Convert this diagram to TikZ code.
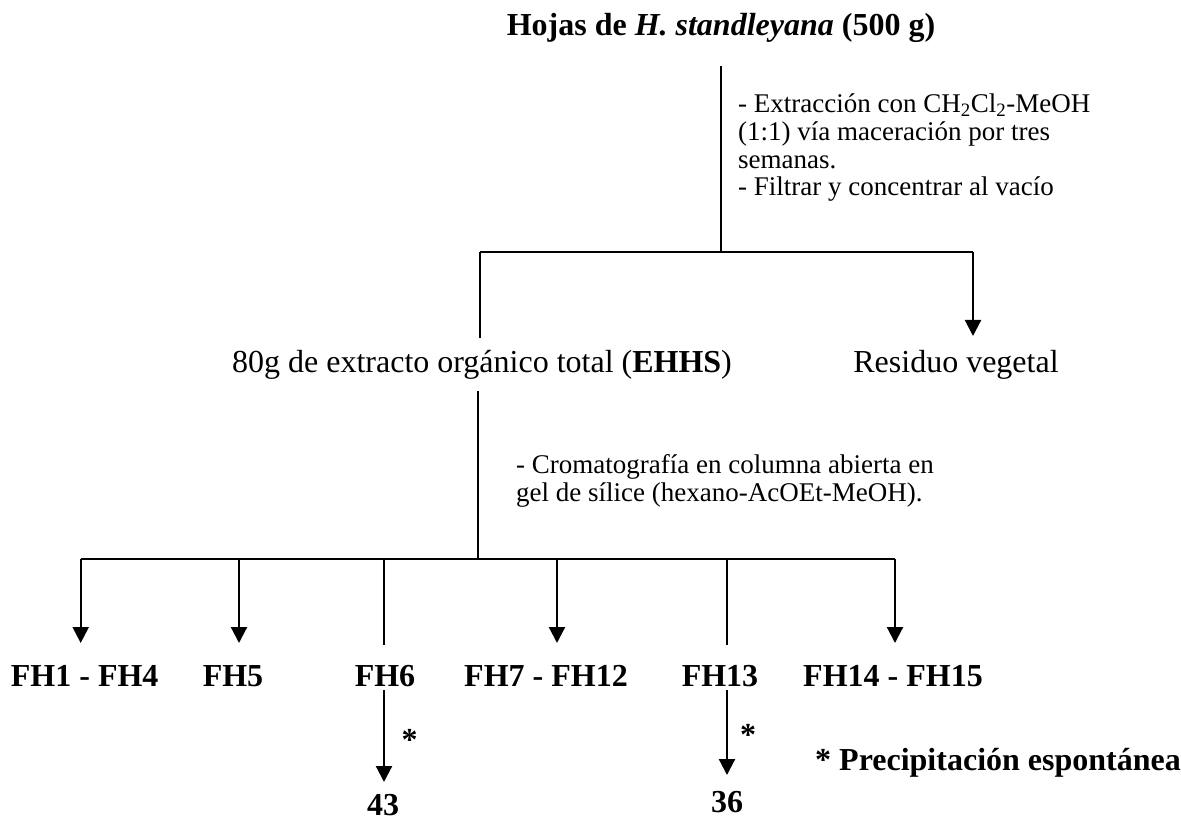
\documentclass[tikz,border=0pt]{standalone}
\usepackage{fontspec}
\setmainfont{Liberation Serif}
\usetikzlibrary{arrows.meta}
\begin{document}
\begin{tikzpicture}[x=1pt,y=-1pt,
  big/.style={font=\fontsize{32}{36}\selectfont, inner sep=0pt, anchor=base},
  bigb/.style={font=\fontsize{32}{36}\selectfont\bfseries, inner sep=0pt, anchor=base},
  note/.style={font=\fontsize{27}{27.7}\selectfont, inner sep=0pt, anchor=base west, align=left},
  thinline/.style={line width=1.4pt},
  arrowline/.style={line width=2.2pt, -{Triangle[length=16pt,width=16pt]}},
]
\useasboundingbox (0,0) rectangle (1181,818);

% starting material and extraction step
% (a multi-line node's base anchor sits on its last line)
\node[bigb] (src) at (721,36) {Hojas de \textit{H. standleyana} (500 g)};
\node[note] (n1) at (738,196) {- Extracción con CH\textsubscript{2}Cl\textsubscript{2}-MeOH\\(1:1) vía maceración por tres\\semanas.\\- Filtrar y concentrar al vacío};

\coordinate (t0) at (721,66);
\coordinate (j1) at (721,252);
\coordinate (jl) at (480,252);
\coordinate (jr) at (973,252);
\coordinate (el) at (480,338);
\coordinate (er) at (973,336);

\node[big] (ext) at (482,373) {80g de extracto orgánico total (\textbf{EHHS})};
\node[big] (res) at (956,373) {Residuo vegetal};

\draw[thinline] (t0) -- (j1);
\draw[thinline] (jl) -- (jr);
\draw[thinline] (jl) -- (el);
\draw[arrowline] (jr) -- (er);

% column chromatography
\coordinate (m0) at (478,391);
\coordinate (j2) at (478,559);
\node[note] (n2) at (516,501) {- Cromatografía en columna abierta en\\gel de sílice (hexano-AcOEt-MeOH).};

\draw[thinline] (m0) -- (j2);

\coordinate (b1) at (80.7,559);
\coordinate (b2) at (239,559);
\coordinate (b3) at (384,559);
\coordinate (b4) at (557,559);
\coordinate (b5) at (727,559);
\coordinate (b6) at (895,559);
\draw[line width=2pt] (b1) -- (b6);

\coordinate (e1) at (80.7,643);
\coordinate (e2) at (239,643);
\coordinate (e3) at (384,645);
\coordinate (e4) at (557,643);
\coordinate (e5) at (727,645);
\coordinate (e6) at (895,643);
\draw[arrowline] (b1) -- (e1);
\draw[arrowline] (b2) -- (e2);
\draw[thinline] (b3) -- (e3);
\draw[arrowline] (b4) -- (e4);
\draw[thinline] (b5) -- (e5);
\draw[arrowline] (b6) -- (e6);

% fractions
\node[bigb] (fh1) at (84.7,686) {FH1 - FH4};
\node[bigb] (fh5) at (233,686) {FH5};
\node[bigb] (fh6) at (385,686) {FH6};
\node[bigb] (fh7) at (546,686) {FH7 - FH12};
\node[bigb] (fh13) at (720,686) {FH13};
\node[bigb] (fh14) at (893,686) {FH14 - FH15};

% spontaneous precipitates
\coordinate (p6a) at (384,690);
\coordinate (p6b) at (384,782);
\coordinate (p13a) at (727,690);
\coordinate (p13b) at (727,775);
\draw[arrowline] (p6a) -- (p6b);
\draw[arrowline] (p13a) -- (p13b);
\node[bigb] (s6) at (409.5,750) {*};
\node[bigb] (s13) at (748,745) {*};
\node[bigb] (c43) at (383,815) {43};
\node[bigb] (c36) at (727,812) {36};

\node[bigb, anchor=base west] (key) at (815,770) {* Precipitación espontánea};
\end{tikzpicture}
\end{document}
